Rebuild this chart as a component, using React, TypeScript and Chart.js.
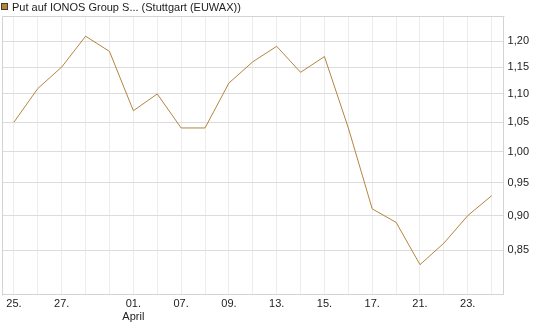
import React, { useEffect, useRef } from "react";
import { Chart, registerables } from "chart.js";

Chart.register(...registerables);

const seriesLabel = "Put auf IONOS Group S... (Stuttgart (EUWAX))";

const categories = [
  "25.03.", "26.03.", "27.03.", "30.03.", "31.03.", "01.04.", "02.04.",
  "07.04.", "08.04.", "09.04.", "10.04.", "13.04.", "14.04.", "15.04.",
  "16.04.", "17.04.", "20.04.", "21.04.", "22.04.", "23.04.", "24.04.",
];

const prices = [
  1.05, 1.11, 1.15, 1.21, 1.18, 1.07, 1.10, 1.04, 1.04, 1.12, 1.16,
  1.19, 1.14, 1.17, 1.04, 0.91, 0.89, 0.83, 0.86, 0.90, 0.93,
];

const xTickLabels: (string | string[])[] = [
  "25.", "", "27.", "", "", ["01.", "April"], "", "07.", "", "09.", "",
  "13.", "", "15.", "", "17.", "", "21.", "", "23.", "",
];

const yTickValues = [0.85, 0.9, 0.95, 1.0, 1.05, 1.1, 1.15, 1.2];
const yMin = 0.794;
const yMax = 1.251;

const lineColor = "#b5843f";
const fontFamily = "'Liberation Sans', Arial, sans-serif";

const frameAndLegend = {
  id: "frameAndLegend",
  afterDraw(chart: any) {
    const { ctx, chartArea } = chart;
    ctx.save();
    ctx.strokeStyle = "#d3d3d3";
    ctx.lineWidth = 1;
    ctx.beginPath();
    ctx.moveTo(Math.round(chartArea.left) + 0.5, Math.round(chartArea.bottom) + 0.5);
    ctx.lineTo(Math.round(chartArea.left) + 0.5, Math.round(chartArea.top) + 0.5);
    ctx.lineTo(Math.round(chartArea.right) + 0.5, Math.round(chartArea.top) + 0.5);
    ctx.stroke();
    const label = chart.data.datasets[0].label;
    ctx.fillStyle = lineColor;
    ctx.fillRect(1, 3, 7, 7);
    ctx.strokeStyle = "#4a3a26";
    ctx.strokeRect(1.5, 3.5, 6, 6);
    ctx.fillStyle = "#222";
    ctx.font = "11px " + fontFamily;
    ctx.textBaseline = "alphabetic";
    ctx.textAlign = "left";
    ctx.fillText(label, 12, 10.5);
    ctx.restore();
  },
};

export default function App() {
  const ref = useRef<HTMLCanvasElement | null>(null);
  useEffect(() => {
    if (!ref.current) return;
    const chart = new Chart(ref.current, {
      type: "line",
      data: {
        labels: categories,
        datasets: [
          {
            label: seriesLabel,
            data: prices,
            borderColor: lineColor,
            backgroundColor: lineColor,
            borderWidth: 1,
            pointRadius: 0,
            tension: 0,
            fill: false,
          },
        ],
      },
      options: {
        responsive: false,
        animation: false,
        layout: { padding: { left: 2, right: 12, top: 16, bottom: 0 } },
        plugins: {
          legend: { display: false },
          tooltip: { enabled: false },
        },
        scales: {
          x: {
            type: "category",
            offset: true,
            grid: { offset: false, color: "#ececec", drawTicks: false },
            border: { display: true, color: "#d3d3d3" },
            ticks: {
              autoSkip: false,
              maxRotation: 0,
              padding: 3,
              color: "#222",
              font: { size: 11, family: fontFamily },
              callback: (_v: any, i: number) => xTickLabels[i],
            },
          },
          y: {
            type: "logarithmic",
            position: "right",
            min: yMin,
            max: yMax,
            afterBuildTicks: (axis: any) => {
              axis.ticks = yTickValues.map((v) => ({ value: v }));
            },
            grid: { color: "#dcdcdc", drawTicks: false },
            border: { display: true, color: "#d3d3d3" },
            ticks: {
              padding: 4,
              color: "#222",
              font: { size: 11, family: fontFamily },
              callback: (v: any) => Number(v).toFixed(2).replace(".", ","),
            },
          },
        },
      },
      plugins: [frameAndLegend],
    });
    return () => chart.destroy();
  }, []);
  return (
    <div style={{ position: "fixed", left: 0, top: 0, width: 545, height: 327, background: "#fff" }}>
      <canvas ref={ref} width={545} height={327} />
    </div>
  );
}
